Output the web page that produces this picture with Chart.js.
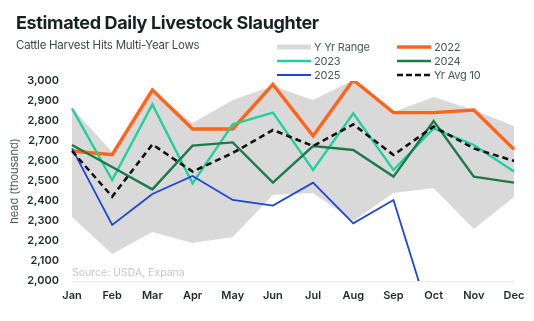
<!DOCTYPE html>
<html>
<head>
<meta charset="utf-8">
<script src="https://cdn.jsdelivr.net/npm/chart.js@4.4.0/dist/chart.umd.min.js"></script>
<style>
  html, body { margin: 0; padding: 0; background: #fff; }
  body { width: 534px; height: 321px; position: relative; overflow: hidden; font-family: Inter, "Noto Sans", sans-serif; }
  #chart { position: absolute; left: 0; top: 0; }
  .title { position: absolute; left: 16px; top: 12px; font-size: 18px; font-weight: 700; color: #14231f; letter-spacing: -0.35px; white-space: nowrap; }
  .subtitle { position: absolute; left: 16px; top: 38px; font-size: 11.5px; color: #3b4a47; letter-spacing: -0.25px; white-space: nowrap; }
  .source { position: absolute; left: 72px; top: 266px; font-size: 10.5px; color: #c6c6c6; white-space: nowrap; }
  .legend { position: absolute; left: 277px; top: 40px; display: grid; grid-template-columns: 120px 120px; row-gap: 0px; }
  .legend div { display: flex; align-items: center; height: 14px; font-size: 11px; color: #4a5855; letter-spacing: -0.2px; white-space: nowrap; }
  .legend canvas { margin-right: 3px; }
</style>
</head>
<body>
<canvas id="chart" width="534" height="321"></canvas>
<div class="title">Estimated Daily Livestock Slaughter</div>
<div class="subtitle">Cattle Harvest Hits Multi-Year Lows</div>
<div class="source">Source: USDA, Expana</div>
<div class="legend" id="legend"></div>
<script>
const months = ['Jan', 'Feb', 'Mar', 'Apr', 'May', 'Jun', 'Jul', 'Aug', 'Sep', 'Oct', 'Nov', 'Dec'];

// 5 yr range band
const rangeHigh = [2865, 2645, 2955, 2790, 2905, 2975, 2905, 3005, 2845, 2920, 2855, 2775];
const rangeLow  = [2320, 2135, 2245, 2190, 2220, 2430, 2440, 2300, 2440, 2465, 2260, 2420];

const y2022 = [2650, 2632, 2955, 2760, 2760, 2983, 2725, 3005, 2842, 2842, 2855, 2658];
const y2023 = [2863, 2505, 2883, 2488, 2783, 2842, 2555, 2838, 2555, 2763, 2680, 2547];
const y2024 = [2680, 2570, 2458, 2677, 2693, 2492, 2675, 2655, 2522, 2800, 2522, 2492];
const y2025 = [2663, 2280, 2435, 2525, 2405, 2377, 2492, 2288, 2405, 1760, null, null];
const avg10 = [2650, 2422, 2683, 2547, 2640, 2755, 2675, 2783, 2630, 2772, 2663, 2600];

const colors = {
    range: '#d9d9d9',
    y2022: '#ff6418',
    y2023: '#22d09c',
    y2024: '#1d7a4b',
    y2025: '#1e46d6',
    avg: '#111111'
};

function lineSet(label, data, color, width, dash) {
    return {
        label: label,
        data: data,
        borderColor: color,
        backgroundColor: color,
        borderWidth: width,
        borderDash: dash || [],
        pointRadius: 0,
        tension: 0,
        fill: false,
        spanGaps: false
    };
}

const datasets = [
    lineSet('Yr Avg 10', avg10, colors.avg, 2.6, [6, 4]),
    lineSet('2025', y2025, colors.y2025, 1.8),
    lineSet('2024', y2024, colors.y2024, 2.4),
    lineSet('2023', y2023, colors.y2023, 2.4),
    lineSet('2022', y2022, colors.y2022, 3.4),
    {
        label: 'Y Yr Range',
        data: rangeHigh,
        borderWidth: 0,
        pointRadius: 0,
        backgroundColor: colors.range,
        fill: '+1'
    },
    {
        label: 'range low',
        data: rangeLow,
        borderWidth: 0,
        pointRadius: 0,
        backgroundColor: colors.range,
        fill: false
    }
];

new Chart(document.getElementById('chart'), {
    type: 'line',
    data: { labels: months, datasets: datasets },
    options: {
        responsive: false,
        animation: false,
        layout: { padding: { top: 81, right: 20, bottom: 0, left: 0 } },
        plugins: {
            legend: { display: false },
            tooltip: { enabled: false }
        },
        scales: {
            x: {
                offset: false,
                grid: { display: false, drawTicks: false },
                border: { display: true, color: '#ebebeb', width: 1 },
                ticks: {
                    padding: 8,
                    color: '#1d2b27',
                    font: { family: 'Inter', size: 11, weight: '600' },
                    maxRotation: 0
                },
                afterFit: function (scale) { scale.height = 40; }
            },
            y: {
                min: 2000,
                max: 3000,
                grid: { display: false, drawTicks: false },
                border: { display: false },
                ticks: {
                    stepSize: 100,
                    padding: 13,
                    color: '#1d2b27',
                    font: { family: 'Inter', size: 11, weight: '600' }
                },
                title: {
                    display: true,
                    text: 'head (thousand)',
                    color: '#4a5855',
                    font: { family: 'Inter', size: 11 },
                    padding: { top: 8, bottom: 0 }
                },
                afterFit: function (scale) { scale.width = 72; }
            }
        }
    }
});

// legend built from the same series
const legendItems = [
    { label: 'Y Yr Range', color: colors.range, width: 5, dash: [] },
    { label: '2022', color: colors.y2022, width: 3.4, dash: [] },
    { label: '2023', color: colors.y2023, width: 2.4, dash: [] },
    { label: '2024', color: colors.y2024, width: 2.4, dash: [] },
    { label: '2025', color: colors.y2025, width: 1.8, dash: [] },
    { label: 'Yr Avg 10', color: colors.avg, width: 2.6, dash: [6, 3] }
];
const legendEl = document.getElementById('legend');
legendItems.forEach(function (item) {
    const row = document.createElement('div');
    const sw = document.createElement('canvas');
    sw.width = 34; sw.height = 8;
    const c = sw.getContext('2d');
    c.strokeStyle = item.color;
    c.lineWidth = item.width;
    c.setLineDash(item.dash);
    c.beginPath(); c.moveTo(0, 4); c.lineTo(34, 4); c.stroke();
    row.appendChild(sw);
    row.appendChild(document.createTextNode(item.label));
    legendEl.appendChild(row);
});
</script>
</body>
</html>
